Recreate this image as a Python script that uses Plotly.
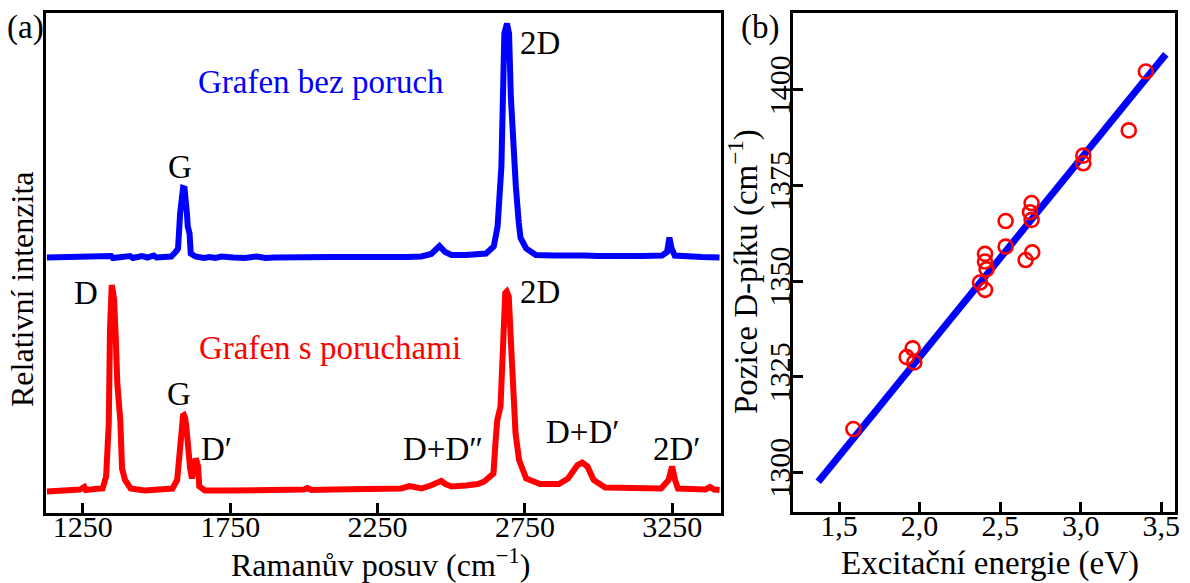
import plotly.graph_objects as go

# ---------------- data ----------------
# (a) Raman spectra (shift in cm^-1, relative intensity)
blue_shift = [1128, 1180, 1250, 1290, 1346, 1352, 1380, 1410, 1420, 1450, 1470, 1490, 1500, 1550,
              1566, 1573, 1580, 1585, 1590, 1595, 1600, 1603, 1606, 1612, 1616, 1632,
              1660, 1680, 1700, 1720, 1760, 1800, 1840, 1870, 1900, 1950, 2000, 2050, 2100,
              2150, 2200, 2250, 2300, 2350, 2398, 2432, 2460, 2479, 2501, 2550, 2600,
              2618, 2644, 2657, 2670, 2674, 2680, 2689, 2696, 2702, 2706, 2713, 2719, 2729,
              2735, 2754, 2787, 2850, 2917, 2950, 3000, 3050, 3100, 3150, 3215, 3232, 3240,
              3247, 3258, 3300, 3350, 3410]
blue_int = [0.511, 0.511, 0.511, 0.511, 0.514, 0.510, 0.512, 0.514, 0.510, 0.514, 0.511, 0.515, 0.511, 0.513,
            0.523, 0.529, 0.599, 0.639, 0.650, 0.649, 0.630, 0.600, 0.573, 0.559, 0.519, 0.513,
            0.510, 0.512, 0.510, 0.513, 0.511, 0.510, 0.513, 0.510, 0.511, 0.512, 0.511, 0.511, 0.512,
            0.512, 0.511, 0.513, 0.512, 0.512, 0.513, 0.518, 0.534, 0.522, 0.516, 0.516, 0.517,
            0.519, 0.533, 0.573, 0.693, 0.893, 0.959, 0.979, 0.959, 0.833, 0.780, 0.726, 0.653, 0.580,
            0.550, 0.529, 0.516, 0.515, 0.517, 0.515, 0.514, 0.513, 0.513, 0.514, 0.515, 0.522, 0.551,
            0.530, 0.515, 0.513, 0.512, 0.511]

red_shift = [1128, 1160, 1200, 1240, 1255, 1260, 1290, 1317, 1329, 1338, 1342, 1345, 1348, 1353,
             1356, 1361, 1364, 1367, 1377, 1380, 1383, 1393, 1412, 1459, 1500, 1530, 1554, 1570,
             1577, 1585, 1590, 1593, 1597, 1601, 1606, 1614, 1620, 1625, 1633, 1638, 1641, 1645,
             1664, 1750, 1850, 1950, 2000, 2012, 2025, 2100, 2200, 2233, 2260, 2330, 2359, 2380,
             2399, 2430, 2455, 2466, 2480, 2501, 2549, 2590, 2612, 2643, 2651, 2656, 2667, 2672,
             2678, 2683, 2688, 2695, 2702, 2711, 2718, 2730, 2754, 2801, 2865, 2896, 2915, 2928,
             2944, 2955, 2962, 2972, 2983, 3022, 3100, 3212, 3237, 3249, 3259, 3269, 3362, 3378,
             3392, 3410]
red_int = [0.043, 0.045, 0.046, 0.047, 0.052, 0.046, 0.048, 0.049, 0.073, 0.179, 0.366, 0.440, 0.456, 0.440,
           0.426, 0.360, 0.300, 0.259, 0.186, 0.140, 0.089, 0.066, 0.049, 0.045, 0.046, 0.047, 0.049, 0.066,
           0.113, 0.179, 0.195, 0.196, 0.190, 0.173, 0.133, 0.089, 0.069, 0.093, 0.109, 0.100, 0.093, 0.053,
           0.045, 0.045, 0.046, 0.046, 0.047, 0.050, 0.046, 0.047, 0.048, 0.050, 0.048, 0.049, 0.054, 0.050,
           0.049, 0.055, 0.063, 0.064, 0.058, 0.053, 0.055, 0.058, 0.063, 0.079, 0.150, 0.186, 0.213, 0.313,
           0.426, 0.440, 0.443, 0.433, 0.346, 0.266, 0.159, 0.106, 0.069, 0.058, 0.058, 0.069, 0.085, 0.096,
           0.101, 0.098, 0.093, 0.080, 0.066, 0.051, 0.049, 0.049, 0.066, 0.093, 0.066, 0.049, 0.047, 0.052,
           0.047, 0.046]

x_ticks_a = [1250, 1750, 2250, 2750, 3250]

# (b) D-peak position vs. excitation energy
energy = [1.589, 1.920, 1.957, 1.967, 2.375, 2.406, 2.406, 2.406, 2.416, 2.534, 2.534, 2.658,
          2.699, 2.685, 2.695, 2.695, 3.016, 3.016, 3.298, 3.404]
d_pos = [1311.3, 1330.1, 1332.4, 1328.7, 1349.6, 1357.1, 1355.1, 1347.7, 1353.1, 1365.7, 1359.0,
         1355.5, 1357.5, 1368.0, 1370.4, 1366.0, 1382.8, 1380.8, 1389.4, 1404.8]
fit_energy = [1.371, 3.528]
fit_pos = [1297.5, 1409.3]

x_ticks_b = [1.5, 2.0, 2.5, 3.0, 3.5]
x_ticklabels_b = ["1,5", "2,0", "2,5", "3,0", "3,5"]
y_ticks_b = [1300, 1325, 1350, 1375, 1400]

# ---------------- figure ----------------
W, H = 1190, 583
FONT = "Liberation Serif"


def px(x):
    return x / W


def py(y):
    return 1 - y / H


fig = go.Figure()
fig.add_trace(go.Scatter(x=blue_shift, y=blue_int, mode="lines",
                         line=dict(color="#0000ff", width=6), xaxis="x", yaxis="y",
                         showlegend=False, hoverinfo="skip"))
fig.add_trace(go.Scatter(x=red_shift, y=red_int, mode="lines",
                         line=dict(color="#ff0000", width=6), xaxis="x", yaxis="y",
                         showlegend=False, hoverinfo="skip"))
fig.add_trace(go.Scatter(x=fit_energy, y=fit_pos, mode="lines",
                         line=dict(color="#0000ff", width=7), xaxis="x2", yaxis="y2",
                         showlegend=False, hoverinfo="skip"))
fig.add_trace(go.Scatter(x=energy, y=d_pos, mode="markers",
                         marker=dict(symbol="circle-open", size=14, color="#ff0000",
                                     line=dict(width=2.6, color="#ff0000")),
                         xaxis="x2", yaxis="y2", showlegend=False, hoverinfo="skip"))

axis_common = dict(showline=True, linewidth=3, linecolor="black", mirror=True,
                   showgrid=False, zeroline=False, ticklen=10,
                   tickwidth=2.5, tickcolor="black", automargin=False,
                   tickfont=dict(family=FONT, size=30, color="black"))

fig.update_layout(
    width=W, height=H,
    margin=dict(l=0, r=0, t=0, b=0),
    paper_bgcolor="white", plot_bgcolor="white",
    xaxis=dict(domain=[px(46), px(721)], range=[1125, 3415], tickvals=x_ticks_a,
               ticktext=[str(v) for v in x_ticks_a], anchor="y", ticks="inside",
               ticklabelstandoff=-15, **axis_common),
    yaxis=dict(domain=[py(513), py(13)], range=[0, 1], anchor="x", ticks="",
               showticklabels=False, **axis_common),
    xaxis2=dict(domain=[px(793), px(1175)], range=[1.2145, 3.585], tickvals=x_ticks_b,
                ticktext=x_ticklabels_b, anchor="y2", ticks="inside",
                ticklabelstandoff=-15, **axis_common),
    yaxis2=dict(domain=[py(512), py(13)], range=[1289.6, 1420.1], tickvals=y_ticks_b,
                ticktext=[str(v) for v in y_ticks_b], anchor="x2", tickangle=-90,
                ticks="inside", ticklabelstandoff=-12, **axis_common),
)


def lab(x, y, text, color="black", size=33, xref="x", yref="y", angle=0):
    fig.add_annotation(x=x, y=y, xref=xref, yref=yref, text=text, showarrow=False,
                       xanchor="center", yanchor="middle", textangle=angle,
                       font=dict(family=FONT, size=size, color=color))


# peak labels (panel a)
lab(2801, 0.94, "2D")
lab(1580, 0.692, "G")
lab(2059, 0.862, "Grafen bez poruch", color="#0000ff")
lab(1261, 0.44, "D")
lab(2801, 0.442, "2D")
lab(2089, 0.33, "Grafen s poruchami", color="#ff0000")
lab(1577, 0.238, "G")
lab(1702, 0.128, "D\u2032")
lab(2472, 0.128, "D+D\u2033")
lab(2947, 0.162, "D+D\u2032")
lab(3266, 0.128, "2D\u2032")

# panel letters and axis titles (paper coordinates)
lab(px(25), py(28), "(a)", xref="paper", yref="paper")
lab(px(760), py(28), "(b)", xref="paper", yref="paper")
lab(px(381), py(563), "Ramanův posuv (cm<sup>−1</sup>)", xref="paper", yref="paper", size=32)
lab(px(990), py(563), "Excitační energie (eV)", xref="paper", yref="paper")
lab(px(22), py(290), "Relativní intenzita", xref="paper", yref="paper", size=32, angle=-90)
lab(px(743), py(272), "Pozice D-píku (cm<sup>−1</sup>)", xref="paper", yref="paper", angle=-90)

fig.write_html("out.html")
